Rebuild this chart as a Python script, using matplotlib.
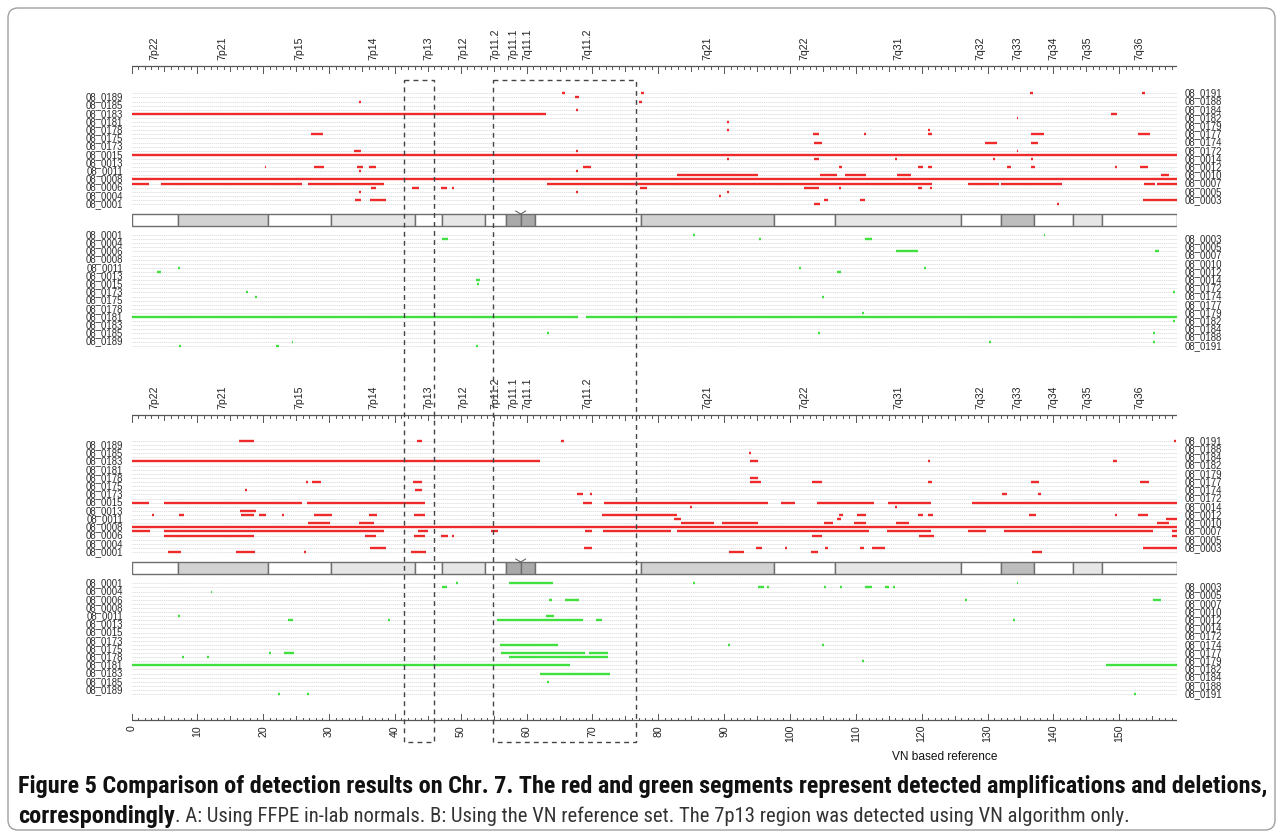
import matplotlib
matplotlib.use("Agg")
import matplotlib.pyplot as plt
from matplotlib.patches import Rectangle, FancyBboxPatch
from matplotlib import font_manager as fm

# ---------------- data ----------------
CHR_LEN = 158.8
SAMPLES = ["0001", "0003", "0004", "0005", "0006", "0007", "0008", "0010", "0011", "0012",
           "0013", "0014", "0015", "0172", "0173", "0174", "0175", "0177", "0178", "0179",
           "0181", "0182", "0183", "0184", "0185", "0188", "0189", "0191"]

BAND_NAMES = ["7p22", "7p21", "7p15", "7p14", "7p13", "7p12", "7p11.2", "7p11.1", "7q11.1",
              "7q11.2", "7q21", "7q22", "7q31", "7q32", "7q33", "7q34", "7q35", "7q36"]
BAND_EDGES = [0, 7.0, 20.7, 30.3, 43.1, 47.1, 53.7, 56.9, 59.1, 61.3, 77.3, 97.6, 106.9,
              125.9, 132.0, 137.1, 143.0, 147.4, 158.8]
BAND_STAIN = ["gneg", "gpos50", "gneg", "gpos25", "gneg", "gpos25", "gneg", "acen", "acen",
              "gneg", "gpos50", "gneg", "gpos25", "gneg", "gpos75", "gneg", "gpos25", "gneg"]
CENTROMERE = 59.1
HIGHLIGHTS = [(41.45, 45.9), (54.95, 76.6)]
X_TICKS = list(range(0, 151, 10))

# panel A (FFPE in-lab normals): amplifications / deletions  (sample, start Mb, end Mb)
AMP_A = [("0191", 65.3, 65.8), ("0191", 77.4, 77.8), ("0191", 136.5, 136.9), ("0191", 153.5, 153.9),
         ("0189", 67.3, 68.0),
         ("0188", 34.5, 34.8), ("0188", 77.1, 77.5),
         ("0184", 67.5, 67.8),
         ("0183", 0, 63.0), ("0183", 148.8, 149.6),
         ("0182", 134.4, 134.7),
         ("0181", 90.5, 90.8),
         ("0178", 90.5, 90.8), ("0178", 121.0, 121.3),
         ("0177", 27.3, 29.1), ("0177", 103.5, 104.4), ("0177", 111.2, 111.5), ("0177", 120.9, 121.5),
         ("0177", 136.6, 138.5), ("0177", 152.9, 154.6),
         ("0174", 103.6, 104.9), ("0174", 129.6, 131.5), ("0174", 136.6, 137.6),
         ("0172", 33.8, 34.9), ("0172", 67.5, 67.8), ("0172", 134.4, 134.7),
         ("0015", 0, 158.8),
         ("0014", 90.5, 90.8), ("0014", 103.6, 104.4), ("0014", 116.0, 116.3), ("0014", 130.8, 131.1),
         ("0014", 136.6, 136.9),
         ("0012", 20.2, 20.5), ("0012", 27.7, 29.3), ("0012", 34.3, 35.2), ("0012", 36.1, 37.2),
         ("0012", 68.6, 69.8), ("0012", 107.5, 107.9), ("0012", 119.5, 120.2), ("0012", 120.9, 121.5),
         ("0012", 132.9, 133.5), ("0012", 136.6, 137.2), ("0012", 149.4, 149.7), ("0012", 153.2, 154.3),
         ("0011", 34.5, 34.8), ("0011", 67.5, 67.8),
         ("0010", 82.8, 95.2), ("0010", 104.6, 107.1), ("0010", 108.3, 111.6), ("0010", 116.3, 118.3),
         ("0010", 156.4, 157.5),
         ("0008", 0, 158.8),
         ("0007", 0, 2.6), ("0007", 4.5, 25.9), ("0007", 26.8, 38.3), ("0007", 63.1, 121.5),
         ("0007", 127.0, 131.7), ("0007", 132.1, 141.3), ("0007", 153.7, 155.4), ("0007", 155.7, 158.8),
         ("0006", 36.3, 37.2), ("0006", 42.6, 43.6), ("0006", 47.0, 47.9), ("0006", 48.6, 48.9),
         ("0006", 77.2, 78.3), ("0006", 102.2, 104.4), ("0006", 107.5, 107.8), ("0006", 119.5, 120.1),
         ("0006", 121.3, 121.6),
         ("0005", 34.5, 34.8), ("0005", 67.5, 67.8), ("0005", 90.5, 90.8),
         ("0004", 89.2, 89.5),
         ("0003", 34.0, 34.9), ("0003", 36.2, 38.7), ("0003", 105.2, 105.8), ("0003", 110.6, 111.4),
         ("0003", 153.6, 158.8),
         ("0001", 103.6, 104.5), ("0001", 140.5, 140.8)]

DEL_A = [("0001", 85.2, 85.5), ("0001", 138.5, 138.8),
         ("0003", 47.1, 48.1), ("0003", 95.3, 95.6), ("0003", 111.4, 112.5),
         ("0006", 116.1, 119.5), ("0006", 155.4, 156.0),
         ("0011", 7.1, 7.4), ("0011", 101.4, 101.7), ("0011", 120.4, 120.7),
         ("0012", 3.8, 4.5), ("0012", 107.2, 107.7),
         ("0014", 52.3, 52.9),
         ("0015", 52.4, 52.7),
         ("0173", 17.4, 17.7), ("0173", 158.2, 158.5),
         ("0174", 18.7, 19.0), ("0174", 104.8, 105.1),
         ("0179", 110.9, 111.2),
         ("0181", 0, 67.8), ("0181", 69.0, 158.8),
         ("0182", 158.2, 158.5),
         ("0185", 63.1, 63.4), ("0185", 104.3, 104.6), ("0185", 155.1, 155.4),
         ("0189", 24.3, 24.6), ("0189", 130.2, 130.5), ("0189", 155.1, 155.4),
         ("0191", 7.2, 7.5), ("0191", 22.0, 22.4), ("0191", 52.3, 52.6)]

# panel B (VN reference set)
AMP_B = [("0191", 16.3, 18.6), ("0191", 43.3, 44.1), ("0191", 65.2, 65.7), ("0191", 158.3, 158.6),
         ("0185", 93.8, 94.1),
         ("0183", 0, 62.1), ("0183", 93.9, 95.1), ("0183", 121.0, 121.3), ("0183", 149.0, 149.6),
         ("0178", 94.0, 95.1),
         ("0177", 26.5, 26.8), ("0177", 27.4, 28.8), ("0177", 42.7, 44.1), ("0177", 94.0, 95.6),
         ("0177", 103.3, 104.8), ("0177", 120.9, 121.5), ("0177", 136.6, 137.8), ("0177", 153.2, 154.5),
         ("0174", 17.2, 17.5), ("0174", 43.0, 44.1),
         ("0173", 67.7, 68.5), ("0173", 69.6, 70.0), ("0173", 132.2, 132.9), ("0173", 137.6, 138.1),
         ("0015", 0, 2.6), ("0015", 5.0, 25.9), ("0015", 26.6, 44.5), ("0015", 68.6, 70.0),
         ("0015", 71.7, 96.7), ("0015", 98.7, 100.7), ("0015", 104.1, 112.8), ("0015", 114.9, 121.4),
         ("0015", 127.7, 158.8),
         ("0014", 84.8, 85.1), ("0014", 116.0, 116.3),
         ("0013", 16.5, 18.9),
         ("0012", 3.1, 3.4), ("0012", 7.2, 7.9), ("0012", 16.7, 18.6), ("0012", 19.4, 20.4),
         ("0012", 22.9, 23.2), ("0012", 27.7, 30.5), ("0012", 36.1, 37.3), ("0012", 42.9, 44.5),
         ("0012", 71.4, 82.9), ("0012", 107.4, 108.1), ("0012", 110.2, 111.6), ("0012", 119.5, 120.2),
         ("0012", 120.9, 121.7), ("0012", 136.3, 137.4), ("0012", 149.4, 149.7), ("0012", 152.9, 154.3),
         ("0011", 82.4, 83.4), ("0011", 107.2, 107.7), ("0011", 157.1, 158.8),
         ("0010", 26.8, 30.2), ("0010", 34.5, 36.9), ("0010", 83.4, 88.5), ("0010", 89.6, 95.2),
         ("0010", 105.1, 106.6), ("0010", 109.7, 111.6), ("0010", 116.1, 118.1), ("0010", 155.7, 157.6),
         ("0008", 0, 158.8),
         ("0007", 0, 2.8), ("0007", 5.0, 38.3), ("0007", 43.5, 45.0), ("0007", 54.6, 55.7),
         ("0007", 68.8, 69.9), ("0007", 71.6, 81.9), ("0007", 82.8, 112.0), ("0007", 114.8, 121.4),
         ("0007", 127.0, 129.8), ("0007", 132.5, 155.2), ("0007", 158.0, 158.8),
         ("0006", 5.0, 18.6), ("0006", 35.5, 37.1), ("0006", 42.9, 44.5), ("0006", 47.0, 48.0),
         ("0006", 48.6, 48.9), ("0006", 103.3, 104.9), ("0006", 119.6, 121.9), ("0006", 158.0, 158.8),
         ("0003", 36.2, 38.7), ("0003", 68.7, 69.9), ("0003", 94.8, 95.7), ("0003", 99.2, 99.5),
         ("0003", 105.3, 105.8), ("0003", 110.6, 111.3), ("0003", 112.5, 114.4), ("0003", 153.6, 158.8),
         ("0001", 5.5, 7.5), ("0001", 15.9, 18.7), ("0001", 26.2, 26.5), ("0001", 42.4, 44.7),
         ("0001", 90.7, 93.0), ("0001", 103.2, 104.3), ("0001", 136.8, 138.3)]

DEL_B = [("0001", 49.3, 49.6), ("0001", 57.4, 64.0), ("0001", 85.2, 85.5), ("0001", 134.4, 134.7),
         ("0003", 47.1, 47.9), ("0003", 95.1, 96.0), ("0003", 96.5, 96.8), ("0003", 105.1, 105.4),
         ("0003", 107.6, 107.9), ("0003", 111.4, 112.5), ("0003", 114.4, 115.1), ("0003", 115.7, 116.0),
         ("0004", 12.0, 12.3),
         ("0006", 63.4, 63.8), ("0006", 65.9, 68.0), ("0006", 126.6, 126.9), ("0006", 155.2, 156.3),
         ("0011", 7.1, 7.4), ("0011", 63.0, 64.1),
         ("0012", 23.7, 24.5), ("0012", 39.0, 39.3), ("0012", 55.5, 68.6), ("0012", 70.6, 71.5),
         ("0012", 133.8, 134.1),
         ("0174", 56.0, 64.8), ("0174", 90.6, 90.9), ("0174", 104.8, 105.1),
         ("0177", 20.9, 21.2), ("0177", 23.2, 24.7), ("0177", 56.1, 68.8), ("0177", 69.5, 72.4),
         ("0178", 7.7, 8.0), ("0178", 11.5, 11.8), ("0178", 57.4, 72.4),
         ("0179", 110.9, 111.2),
         ("0181", 0, 66.6), ("0181", 148.0, 158.8),
         ("0183", 62.0, 72.7),
         ("0185", 63.1, 63.4),
         ("0191", 22.2, 22.5), ("0191", 26.7, 27.0), ("0191", 152.3, 152.6)]

# ---------------- layout / style ----------------
W, H = 1282, 834
PX_PER_MB = 6.585
X0_PX = 131.5
RED = "#ee2a2a"
GREEN = "#3fe03f"
STAIN_COL = {"gneg": "white", "gpos25": "#e6e6e6", "gpos50": "#d2d2d2",
             "gpos75": "#bdbdbd", "acen": "#a9a9a9"}

PANELS = [(AMP_A, RED, 204.0, -4.1), (DEL_A, GREEN, 235.0, 4.1),
          (AMP_B, RED, 552.0, -4.115), (DEL_B, GREEN, 583.3, 4.1)]
IDIO_Y = [(214.0, 225.5), (562.0, 573.5)]
RULERS = [66.0, 415.0]
BAND_LABEL_Y = [59.5, 408.5]
BOTTOM_AXIS_Y = 720.0

fig = plt.figure(figsize=(W / 100, H / 100), dpi=100)
bg = fig.add_axes([0, 0, 1, 1])
bg.set_xlim(0, W)
bg.set_ylim(H, 0)
bg.axis("off")
bg.add_patch(FancyBboxPatch((8, 8), 1267, 822, boxstyle="round,pad=0,rounding_size=10",
                            fill=False, edgecolor="#a0a0a0", lw=1.0))

x1_px = X0_PX + CHR_LEN * PX_PER_MB
ax = fig.add_axes([X0_PX / W, 0, (x1_px - X0_PX) / W, 1])
ax.set_xlim(0, CHR_LEN)
ax.set_ylim(H, 0)
ax.axis("off")

LABEL_FS = 6.9
label_x_left = -8.5 / PX_PER_MB
label_x_right = CHR_LEN + 7.0 / PX_PER_MB

for segs, col, y0, step in PANELS:
    rowy = {s: y0 + step * i for i, s in enumerate(SAMPLES)}
    for i, s in enumerate(SAMPLES):
        y = rowy[s]
        ax.plot([0, CHR_LEN], [y, y], color="#d6d6d6", lw=0.5, ls=(0, (2, 1)), zorder=1)
        if i % 2 == 0:
            ax.text(label_x_left, y, "08_" + s, ha="right", va="center", fontsize=LABEL_FS,
                    color="#2a2a2a", family="Liberation Sans")
        else:
            ax.text(label_x_right, y, "08_" + s, ha="left", va="center", fontsize=LABEL_FS,
                    color="#2a2a2a", family="Liberation Sans")
    for s, a, b in segs:
        y = rowy[s]
        ax.plot([a, b], [y, y], color=col, lw=1.7, solid_capstyle="butt", zorder=3)

for top, bot in IDIO_Y:
    for k, st in enumerate(BAND_STAIN):
        a, b = BAND_EDGES[k], BAND_EDGES[k + 1]
        ax.add_patch(Rectangle((a, top), b - a, bot - top, facecolor=STAIN_COL[st],
                               edgecolor="#6e6e6e", lw=1.0, zorder=2))
    d = 5.0 / PX_PER_MB
    ax.plot([CENTROMERE - d, CENTROMERE, CENTROMERE + d], [top - 3, top, top - 3],
            color="#555555", lw=0.7, zorder=3)

for ry, ly in zip(RULERS, BAND_LABEL_Y):
    ax.plot([0, CHR_LEN], [ry, ry], color="#555555", lw=0.9)
    for t in range(0, int(CHR_LEN) + 1):
        ln = 7 if t % 10 == 0 else (4.5 if t % 5 == 0 else 2.5)
        ax.plot([t, t], [ry, ry + ln], color="#555555", lw=0.7)
    for k, name in enumerate(BAND_NAMES):
        mid = (BAND_EDGES[k] + BAND_EDGES[k + 1]) / 2
        ax.text(mid, ly, name, rotation=90, ha="center", va="bottom", fontsize=7.6,
                color="#222222", family="Liberation Sans")

ax.plot([0, CHR_LEN], [BOTTOM_AXIS_Y, BOTTOM_AXIS_Y], color="#555555", lw=0.9)
for t in range(0, int(CHR_LEN) + 1):
    ln = 6 if t % 10 == 0 else (4 if t % 5 == 0 else 2.2)
    ax.plot([t, t], [BOTTOM_AXIS_Y, BOTTOM_AXIS_Y - ln], color="#555555", lw=0.7)
for t in X_TICKS:
    ax.text(t, BOTTOM_AXIS_Y + 5, str(t), rotation=90, ha="center", va="top", fontsize=7.6,
            color="#222222", family="Liberation Sans")
ax.text((945 - X0_PX) / PX_PER_MB, 757, "VN based reference", ha="center", va="center",
        fontsize=8.6, color="#111111", family="Liberation Sans")

for a, b in HIGHLIGHTS:
    ax.add_patch(Rectangle((a, 80), b - a, 662, fill=False, edgecolor="#444444", lw=1.0,
                           ls=(0, (3.5, 3)), zorder=4))

# ---------------- caption (prefer a condensed face) ----------------
def pick_caption_fonts():
    entries = fm.fontManager.ttflist
    def is_narrow(f):
        n = (f.name + " " + f.fname).lower()
        return ("narrow" in n or "condensed" in n or
                str(f.stretch) in ("condensed", "semi-condensed", "extra-condensed"))
    narrow = [f for f in entries if is_narrow(f) and f.style == "normal"]
    fams = {}
    for f in narrow:
        fams.setdefault((f.name, str(f.stretch)), []).append(f)
    pref = ["Liberation Sans Narrow", "Roboto Condensed", "Open Sans Condensed", "DejaVu Sans"]
    def wt(f):
        w = f.weight
        return w if isinstance(w, (int, float)) else {"bold": 700, "normal": 400}.get(w, 400)
    for p in pref:
        for (name, stretch), fl in fams.items():
            if name.startswith(p):
                bold = [f for f in fl if wt(f) >= 600]
                reg = sorted([f for f in fl if 250 <= wt(f) < 600], key=lambda f: abs(wt(f) - 400))
                if bold and reg:
                    return (fm.FontProperties(fname=bold[0].fname),
                            fm.FontProperties(fname=reg[0].fname))
    return (fm.FontProperties(family="Liberation Sans", weight="bold"),
            fm.FontProperties(family="Liberation Sans"))

fp_bold, fp_reg = pick_caption_fonts()
line1 = ("Figure 5 Comparison of detection results on Chr. 7. The red and green segments "
         "represent detected amplifications and deletions,")
line2_rest = (". A: Using FFPE in-lab normals. B: Using the VN reference set. "
              "The 7p13 region was detected using VN algorithm only.")
r = fig.canvas.get_renderer()
t1 = bg.text(18, 786, line1, ha="left", va="center", fontproperties=fp_bold, color="#111111")
t1.set_fontsize(12)
fs = 12 * 1249 / t1.get_window_extent(r).width
t1.set_fontsize(fs)
t2 = bg.text(18, 816, "correspondingly", ha="left", va="center", fontproperties=fp_bold,
             color="#111111")
t2.set_fontsize(fs)
w2 = t2.get_window_extent(r).width
t3 = bg.text(18 + w2, 816, line2_rest, ha="left", va="center", fontproperties=fp_reg,
             color="#333333")
t3.set_fontsize(fs)
target = 1005 - (18 + w2)
w3 = t3.get_window_extent(r).width
if w3 > target:
    t3.set_fontsize(fs * max(target / w3, 0.86))

fig.savefig("out.png", dpi=100)
